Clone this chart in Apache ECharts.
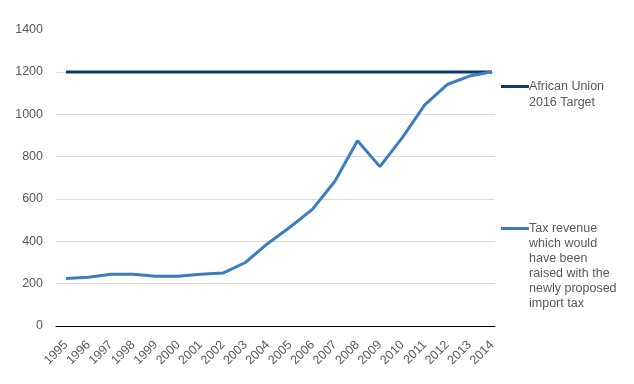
<!DOCTYPE html>
<html>
<head>
<meta charset="utf-8">
<script src="https://cdn.jsdelivr.net/npm/echarts@6/dist/echarts.min.js"></script>
<style>
html,body{margin:0;padding:0;background:#fff;}
#chart{width:634px;height:384px;}
</style>
</head>
<body>
<div id="chart"></div>
<script>
var years = [1995,1996,1997,1998,1999,2000,2001,2002,2003,2004,2005,2006,2007,2008,2009,2010,2011,2012,2013,2014];
var targetValues = [1200,1200,1200,1200,1200,1200,1200,1200,1200,1200,1200,1200,1200,1200,1200,1200,1200,1200,1200,1200];
var taxValues = [225,230,244,244,235,235,244,250,300,390,468,552,685,875,753,890,1045,1141,1181,1201];
var yTicks = [0,200,400,600,800,1000,1200,1400];
var seriesNames = ['African Union 2016 Target', 'Tax revenue which would have been raised with the newly proposed import tax'];
var legendLines = [
  ['African Union', '2016 Target'],
  ['Tax revenue', 'which would', 'have been', 'raised with the', 'newly proposed', 'import tax']
];
var colors = ['#0c3a6c', '#3c7dc0'];

function pairs(vals){ return years.map(function(y,i){ return [y, vals[i]]; }); }

var font = '"Liberation Sans", Arial, sans-serif';
var textColor = '#595959';
var fs = 12.5;

function legendFormatter(idx){
  return function(){
    var ls = legendLines[idx];
    var out = ['{ln|}{t|' + ls[0] + '}'];
    for (var i = 1; i < ls.length; i++) out.push('{sp|}{t|' + ls[i] + '}');
    return out.join('\n');
  };
}
function legendRich(idx, lh){
  return {
    ln: {width: 28, height: 3, backgroundColor: colors[idx], lineHeight: lh, verticalAlign: 'middle'},
    sp: {width: 28, height: 3, lineHeight: lh},
    t: {color: textColor, fontFamily: font, fontSize: fs, lineHeight: lh, verticalAlign: 'middle'}
  };
}

var chart = echarts.init(document.getElementById('chart'), null, {renderer:'canvas'});
chart.setOption({
  animation: false,
  backgroundColor: '#fff',
  grid: {left: 56, right: 139, top: 29.7, bottom: 58},
  xAxis: {
    type: 'value',
    min: 1994.554, max: 2014.134,
    splitLine: {show: false},
    axisTick: {show: false},
    axisLine: {show: true, onZero: true, lineStyle: {color: '#000', width: 1}},
    axisLabel: {
      customValues: years,
      rotate: 45, margin: 17,
      color: textColor, fontFamily: font, fontSize: fs,
      formatter: function(v){ return String(Math.round(v)); }
    }
  },
  yAxis: {
    type: 'value', min: yTicks[0], max: yTicks[yTicks.length-1], interval: 200,
    axisLine: {show: false}, axisTick: {show: false},
    splitLine: {show: true, showMaxLine: false, lineStyle: {color: '#d9d9d9', width: 1}},
    axisLabel: {color: textColor, fontFamily: font, fontSize: fs, margin: 13,
      formatter: function(v){ return String(v); }}
  },
  legend: [
    {
      data: [seriesNames[0]], orient: 'vertical', left: 496, top: 80, padding: 0,
      icon: 'none', itemWidth: 0, itemHeight: 0,
      formatter: legendFormatter(0),
      textStyle: {color: textColor, fontFamily: font, fontSize: fs, rich: legendRich(0, 16)}
    },
    {
      data: [seriesNames[1]], orient: 'vertical', left: 496, top: 222, padding: 0,
      icon: 'none', itemWidth: 0, itemHeight: 0,
      formatter: legendFormatter(1),
      textStyle: {color: textColor, fontFamily: font, fontSize: fs, rich: legendRich(1, 15)}
    }
  ],
  series: [
    {
      name: seriesNames[0], type: 'line', data: pairs(targetValues),
      showSymbol: false, symbol: 'none',
      lineStyle: {color: colors[0], width: 3}, itemStyle: {color: colors[0]}
    },
    {
      name: seriesNames[1], type: 'line', data: pairs(taxValues),
      showSymbol: false, symbol: 'none',
      lineStyle: {color: colors[1], width: 3}, itemStyle: {color: colors[1]}
    }
  ]
});
</script>
</body>
</html>
